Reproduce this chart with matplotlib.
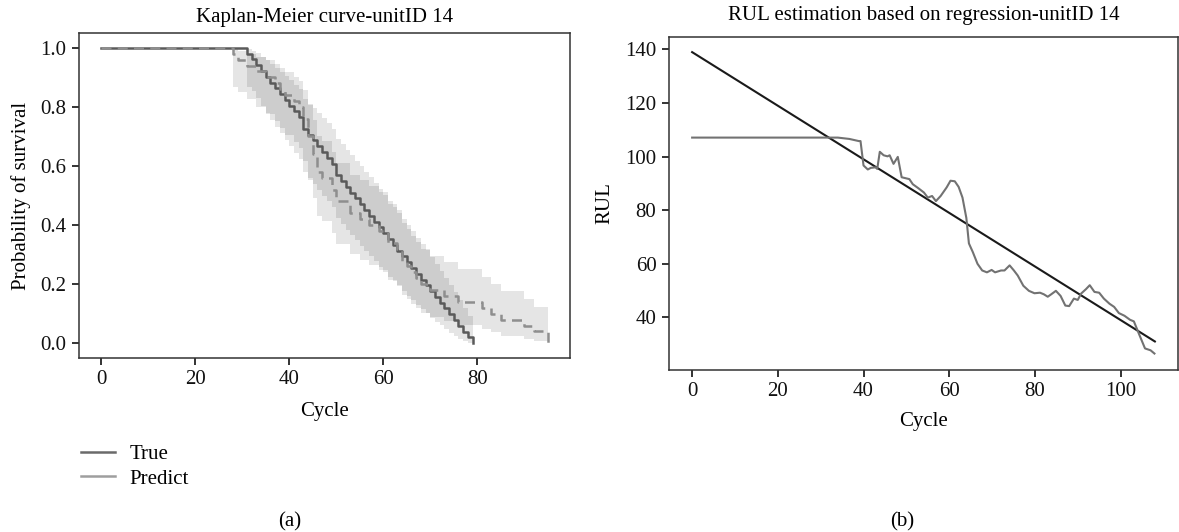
import numpy as np
import matplotlib
matplotlib.use("Agg")
import matplotlib.pyplot as plt
from matplotlib.lines import Line2D

# ---------------- data ----------------
# Kaplan-Meier: failure cycles and number of failures at each cycle
true_event_cycles = [31, 32, 33, 34, 35, 36, 37, 38, 39, 40, 41, 42, 43, 44, 45, 46, 47, 48, 49,
                     50, 51, 52, 53, 54, 55, 56, 57, 58, 59, 60, 61, 62, 63, 64, 65, 66, 67, 68,
                     69, 70, 71, 72, 73, 74, 75, 76, 77, 78, 79]
true_event_counts = [1, 1, 1, 1, 1, 1, 1, 1, 1, 1, 1, 1, 2, 1, 1, 1, 1, 1, 1,
                     2, 1, 1, 1, 1, 1, 1, 1, 1, 1, 1, 1, 1, 1, 1, 1, 1, 1, 1,
                     1, 1, 1, 1, 1, 1, 1, 1, 1, 1, 1]
pred_event_cycles = [28, 29, 31, 33, 35, 37, 38, 39, 41, 42, 43, 44, 45, 46, 47, 49, 50, 53,
                     55, 57, 59, 61, 63, 64, 65, 66, 67, 68, 70, 73, 76, 81, 83, 85, 90, 92, 95]
pred_event_counts = [1, 1, 1, 1, 1, 1, 1, 1, 1, 1, 2, 3, 3, 3, 1, 2, 2, 2,
                     1, 1, 1, 2, 1, 2, 1, 1, 1, 1, 1, 1, 1, 1, 1, 1, 1, 1, 2]

# RUL regression
rul_true_cycle = [0, 108]
rul_true_value = [139, 31]
rul_pred_cycle = [0, 34, 36.7, 38.9, 39.3, 40, 41, 41.7, 42.8, 43.2, 43.8, 44.7, 45.6, 46.1, 47,
                  48, 48.9, 50.7, 51.5, 52.8, 54.1, 55, 56, 56.9, 58, 59.4, 60.3, 61.3, 62.2,
                  63.1, 64, 64.6, 65.5, 66.6, 67.7, 68.8, 69.9, 70.7, 72.1, 72.9, 74.1, 75.1,
                  76, 77.3, 78.6, 79.9, 81.2, 82.1, 83, 83.8, 84.9, 86, 87.1, 88, 89.1, 90,
                  90.8, 91.9, 92.8, 93.9, 95, 96.1, 97.4, 98.5, 99.6, 100.9, 102.2, 103.1,
                  104.4, 105.7, 107, 107.9]
rul_pred_value = [107.1, 107.1, 106.6, 105.8, 105.8, 96.7, 95.2, 95.8, 96, 95.4, 101.8, 100.5,
                  100.1, 100.5, 97.3, 99.9, 92.3, 91.6, 89.7, 88.2, 86.6, 84.7, 85.3, 83.4,
                  85.3, 88.5, 91, 90.8, 88.7, 84.7, 77.1, 67.6, 64.4, 60, 57.5, 56.8, 57.7,
                  56.8, 57.5, 57.5, 59.4, 57.5, 55.6, 51.8, 49.9, 49, 49.2, 48.6, 47.7, 48.6,
                  49.9, 48, 44.4, 44.2, 47, 46.5, 48.9, 50.5, 52, 49.5, 49.2, 47, 45.1, 43.9,
                  41.6, 40.6, 39.1, 38.5, 33.4, 28.4, 27.7, 26.5]


def km_table(cycles, counts, z=1.96):
    cycles = np.asarray(cycles, float)
    counts = np.asarray(counts, float)
    n_total = counts.sum()
    at_risk = n_total - np.concatenate([[0], np.cumsum(counts)[:-1]])
    surv = np.cumprod(1 - counts / at_risk)
    with np.errstate(divide="ignore", invalid="ignore"):
        gw = np.cumsum(counts / (at_risk * (at_risk - counts)))
        v = gw / np.log(surv) ** 2
        lo = surv ** np.exp(z * np.sqrt(v))
        hi = surv ** np.exp(-z * np.sqrt(v))
    # last point (S = 0): keep previous band
    lo[-1] = lo[-2]
    hi[-1] = hi[-2]
    t = np.concatenate([[0], cycles])
    s = np.concatenate([[1], surv])
    lo = np.concatenate([[1], lo])
    hi = np.concatenate([[1], hi])
    return t, s, lo, hi


plt.rcParams['font.family'] = ['Liberation Serif', 'DejaVu Serif']
FS = 15

fig = plt.figure(figsize=(11.79, 5.32), dpi=100)
W, H = 1179, 532


def axes_px(x0, x1, y0, y1):
    return fig.add_axes([x0 / W, 1 - y1 / H, (x1 - x0) / W, (y1 - y0) / H])


ax1 = axes_px(79, 570, 33, 358)
ax2 = axes_px(669, 1178, 37, 370)

true_col = '#5a5a5a'
pred_col = '#8e8e8e'

for (cyc, cnt, col, ls) in [(true_event_cycles, true_event_counts, true_col, '-'),
                            (pred_event_cycles, pred_event_counts, pred_col, '--')]:
    t, s, lo, hi = km_table(cyc, cnt)
    ax1.fill_between(t, lo, hi, step='post', color='black', alpha=0.1, linewidth=0)
    ax1.step(t, s, where='post', color=col, linestyle=ls, linewidth=1.8,
             dashes=(4, 2.5) if ls == '--' else (None, None))

ax1.set_xlim(-4.75, 99.75)
ax1.set_ylim(-0.05, 1.05)
ax1.set_xticks([0, 20, 40, 60, 80])
ax1.set_yticks([0.0, 0.2, 0.4, 0.6, 0.8, 1.0])
ax1.set_yticklabels(['0.0', '0.2', '0.4', '0.6', '0.8', '1.0'])
ax1.set_title('Kaplan-Meier curve-unitID 14', fontsize=FS, pad=8)
ax1.set_xlabel('Cycle', fontsize=FS)
ax1.set_ylabel('Probability of survival', fontsize=FS)
ax1.xaxis.set_label_coords(0.5, -0.135)
ax1.yaxis.set_label_coords(-0.098, 0.5)

handles = [Line2D([], [], color='#6a6a6a', linewidth=1.8),
           Line2D([], [], color='#9e9e9e', linewidth=1.8)]
ax1.legend(handles, ['True', 'Predict'], loc='upper left', frameon=False,
           bbox_to_anchor=(-0.012, -0.24), fontsize=FS, handlelength=1.6,
           handletextpad=0.72, labelspacing=0.25, borderaxespad=0)

ax2.plot(rul_true_cycle, rul_true_value, color='#1a1a1a', linewidth=1.5)
ax2.plot(rul_pred_cycle, rul_pred_value, color='#727272', linewidth=1.5)
ax2.set_xlim(-5.4, 113.4)
ax2.set_ylim(20.35, 144.65)
ax2.set_xticks([0, 20, 40, 60, 80, 100])
ax2.set_yticks([40, 60, 80, 100, 120, 140])
ax2.set_title('RUL estimation based on regression-unitID 14', fontsize=FS, pad=12)
ax2.set_xlabel('Cycle', fontsize=FS)
ax2.set_ylabel('RUL', fontsize=FS)
ax2.xaxis.set_label_coords(0.5, -0.126)
ax2.yaxis.set_label_coords(-0.108, 0.5)

for ax in (ax1, ax2):
    ax.tick_params(direction='out', length=5, width=1.2, labelsize=FS, pad=4,
                   colors='#111111')
    for sp in ax.spines.values():
        sp.set_linewidth(1.1)
        sp.set_color('#333333')

fig.text(290 / W, 1 - 522 / H, '(a)', ha='center', va='center', fontsize=FS)
fig.text(902 / W, 1 - 522 / H, '(b)', ha='center', va='center', fontsize=FS)

fig.savefig('out.png', dpi=100)
